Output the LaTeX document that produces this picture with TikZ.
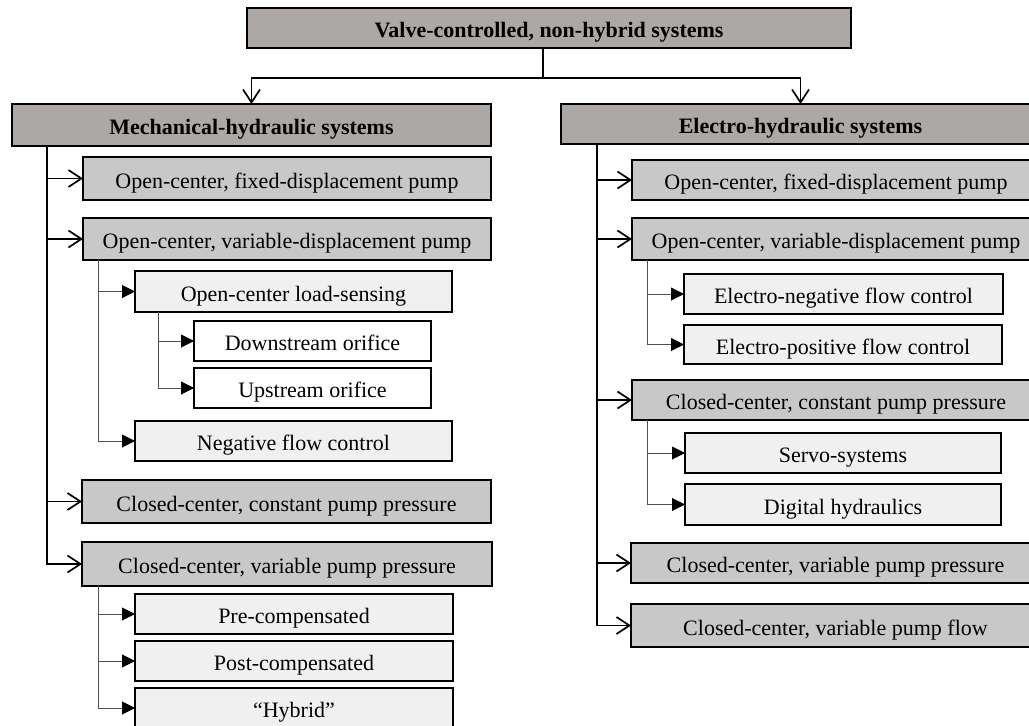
\documentclass[tikz,border=0pt]{standalone}
\usepackage{fontspec}
\setmainfont{Liberation Serif}
\usetikzlibrary{arrows.meta,calc}
\definecolor{topgray}{RGB}{172,168,166}
\definecolor{midgray}{RGB}{200,200,200}
\definecolor{palegray}{RGB}{240,240,240}
\definecolor{subline}{RGB}{80,80,80}
\begin{document}
\begin{tikzpicture}[x=1pt,y=-1pt,
  box/.style={draw=black, line width=1.3pt, inner sep=0pt, outer sep=0pt, text height=19pt, text depth=0pt, font=\fontsize{22}{26}\selectfont},
  lvlzero/.style={box, fill=topgray, font=\bfseries\fontsize{22}{26}\selectfont},
  lvlone/.style={box, fill=midgray},
  lvltwo/.style={box, fill=palegray},
  mainline/.style={line width=1.9pt},
  mainarr/.style={mainline, -{Straight Barb[length=13pt,width=17pt,line width=1.7pt]}},
  subarr/.style={line width=1pt, draw=subline, -{Triangle[length=13pt,width=13pt,fill=black,color=black]}}
]
\clip (0,0) rectangle (1029,726);
\fill[white] (0,0) rectangle (1029,726);
% top
\node[lvlzero, minimum width=604pt, minimum height=40pt] (top) at (549,28) {Valve-controlled, non-hybrid systems};
% left column
\node[lvlzero, minimum width=479pt, minimum height=42pt] (mech) at (251.5,125) {Mechanical-hydraulic systems};
\node[lvlone, minimum width=408pt, minimum height=43pt] (L1) at (287,178.5) {Open-center, fixed-displacement pump};
\node[lvlone, minimum width=408pt, minimum height=42pt] (L2) at (287,239) {Open-center, variable-displacement pump};
\node[lvltwo, minimum width=317pt, minimum height=41pt] (L3) at (293.5,291.5) {Open-center load-sensing};
\node[box, fill=white, minimum width=237pt, minimum height=40pt] (L4) at (312.5,341) {Downstream orifice};
\node[box, fill=white, minimum width=237pt, minimum height=40pt] (L5) at (312.5,388) {Upstream orifice};
\node[lvltwo, minimum width=317pt, minimum height=40pt] (L6) at (293.5,441) {Negative flow control};
\node[lvlone, minimum width=409pt, minimum height=43pt] (L7) at (286.5,501.5) {Closed-center, constant pump pressure};
\node[lvlone, minimum width=410pt, minimum height=44pt] (L8) at (287,564) {Closed-center, variable pump pressure};
\node[lvltwo, minimum width=318pt, minimum height=40pt] (L9) at (294,614) {Pre-compensated};
\node[lvltwo, minimum width=318pt, minimum height=40pt] (L10) at (294,661) {Post-compensated};
\node[lvltwo, minimum width=318pt, minimum height=40pt] (L11) at (294,708) {``Hybrid''};
% right column
\node[lvlzero, minimum width=479pt, minimum height=40pt] (elec) at (800.5,124) {Electro-hydraulic systems};
\node[lvlone, minimum width=408pt, minimum height=40pt] (R1) at (836,180) {Open-center, fixed-displacement pump};
\node[lvlone, minimum width=408pt, minimum height=42pt] (R2) at (836,239) {Open-center, variable-displacement pump};
\node[lvltwo, minimum width=319pt, minimum height=40pt] (R3) at (843.5,294) {Electro-negative flow control};
\node[lvltwo, minimum width=318pt, minimum height=39pt] (R4) at (843,344.5) {Electro-positive flow control};
\node[lvlone, minimum width=408pt, minimum height=40pt] (R5) at (836,400) {Closed-center, constant pump pressure};
\node[lvltwo, minimum width=316pt, minimum height=40pt] (R6) at (843,453) {Servo-systems};
\node[lvltwo, minimum width=316pt, minimum height=41pt] (R7) at (843,504.5) {Digital hydraulics};
\node[lvlone, minimum width=409pt, minimum height=40pt] (R8) at (835.5,563) {Closed-center, variable pump pressure};
\node[lvlone, minimum width=409pt, minimum height=43pt] (R9) at (835.5,625.5) {Closed-center, variable pump flow};
% top connectors
\draw[mainline] ($(top.south)+(-6,0)$) -- ++(0,30) coordinate (split);
\draw[mainarr] (split) -| (mech.north);
\draw[mainarr] (split) -| (elec.north);
% left main trunk
\foreach \n in {L1,L2,L7,L8}
  \draw[mainarr] ($(mech.south west)+(35,0)$) |- (\n);
\foreach \n in {L3,L6}
  \draw[subarr] ($(L2.south west)+(15,0)$) |- (\n);
\foreach \n in {L4,L5}
  \draw[subarr] ($(L3.south west)+(23,0)$) |- (\n);
\foreach \n in {L9,L10,L11}
  \draw[subarr] ($(L8.south west)+(16,0)$) |- (\n);
% right main trunk
\foreach \n in {R1,R2,R5,R8,R9}
  \draw[mainarr] ($(elec.south west)+(36,0)$) |- (\n);
\foreach \n in {R3,R4}
  \draw[subarr] ($(R2.south west)+(15,0)$) |- (\n);
\foreach \n in {R6,R7}
  \draw[subarr] ($(R5.south west)+(15,0)$) |- (\n);
\end{tikzpicture}
\end{document}
